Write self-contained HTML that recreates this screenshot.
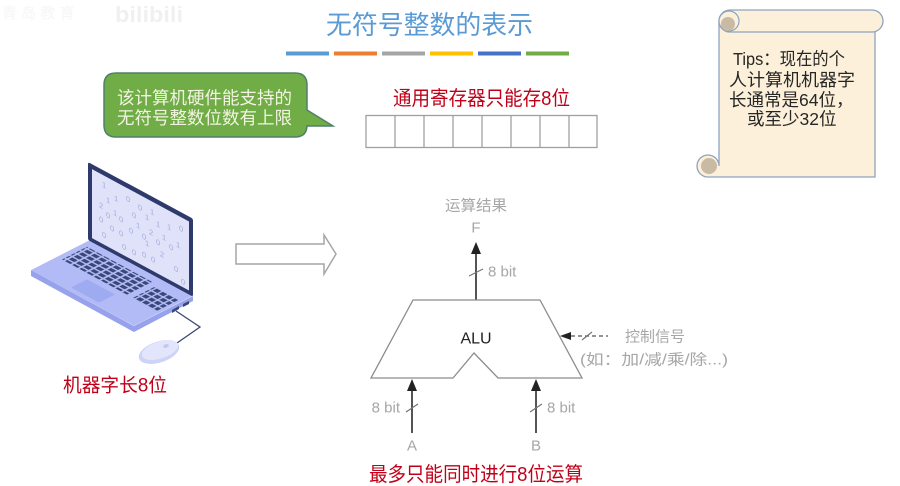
<!DOCTYPE html>
<html><head><meta charset="utf-8">
<style>
html,body{margin:0;padding:0;background:#fff;width:900px;height:486px;overflow:hidden}
svg{display:block}
text{font-family:"Liberation Sans","Noto Sans CJK SC",sans-serif}
</style></head><body>
<svg width="900" height="486" viewBox="0 0 900 486" xmlns="http://www.w3.org/2000/svg">
<defs>
  <pattern id="keys" patternUnits="userSpaceOnUse" width="7.2" height="5">
    <rect x="0.8" y="0.7" width="5.4" height="3.5" fill="#3a4779"/>
  </pattern>
  <pattern id="keys2" patternUnits="userSpaceOnUse" width="6" height="5.6">
    <rect x="0.7" y="0.7" width="4.5" height="4" fill="#3a4779"/>
  </pattern>
</defs>

<!-- watermark -->
<text x="2" y="18" font-size="15" fill="#fafafa" stroke="#f4f4f4" stroke-width="0.3">青 岛 教 育</text>
<text x="115" y="22" font-size="22" font-weight="bold" fill="#f0f0f0" textLength="68" lengthAdjust="spacingAndGlyphs">bilibili</text>

<!-- title -->
<text x="326" y="25" font-size="26" fill="#5b9bd5" dominant-baseline="central" textLength="207" lengthAdjust="spacingAndGlyphs">无符号整数的表示</text>
<rect x="286" y="51.5" width="43" height="4" fill="#5b9bd5"/>
<rect x="334" y="51.5" width="43" height="4" fill="#ed7d31"/>
<rect x="382" y="51.5" width="43" height="4" fill="#a5a5a5"/>
<rect x="430" y="51.5" width="43" height="4" fill="#ffc000"/>
<rect x="478" y="51.5" width="43" height="4" fill="#4472c4"/>
<rect x="526" y="51.5" width="43" height="4" fill="#70ad47"/>

<!-- green bubble -->
<path d="M116,73 H295 Q307,73 307,85 V110 L333,126 L307,126 V125 Q307,137 295,137 H116 Q104,137 104,125 V85 Q104,73 116,73 Z" fill="#70ad47" stroke="#50806a" stroke-width="1.5"/>
<text x="117" y="98" font-size="17.5" fill="#f3f3e2" dominant-baseline="central" textLength="175" lengthAdjust="spacingAndGlyphs">该计算机硬件能支持的</text>
<text x="117" y="118" font-size="17.5" fill="#f3f3e2" dominant-baseline="central" textLength="175" lengthAdjust="spacingAndGlyphs">无符号整数位数有上限</text>

<!-- register -->
<text x="393" y="99" font-size="20" fill="#c00018" dominant-baseline="central" textLength="177" lengthAdjust="spacingAndGlyphs">通用寄存器只能存8位</text>
<g fill="none" stroke="#a0a0a0" stroke-width="1.3">
  <rect x="366" y="115.5" width="231" height="32"/>
  <line x1="395" y1="115.5" x2="395" y2="147.5"/>
  <line x1="424" y1="115.5" x2="424" y2="147.5"/>
  <line x1="453" y1="115.5" x2="453" y2="147.5"/>
  <line x1="482" y1="115.5" x2="482" y2="147.5"/>
  <line x1="511" y1="115.5" x2="511" y2="147.5"/>
  <line x1="540" y1="115.5" x2="540" y2="147.5"/>
  <line x1="569" y1="115.5" x2="569" y2="147.5"/>
</g>

<!-- tips scroll -->
<path d="M719,21 V166 A11,11 0 1 0 708,177 H875 V21 Z" fill="#fcf0da" stroke="#8da3c0" stroke-width="1.3"/>
<circle cx="709" cy="166" r="8" fill="#c9bba3"/>
<path d="M730,10 H872 A11,11 0 0 1 872,32 H730 A11,11 0 0 1 730,10 Z" fill="#fcf0da" stroke="#8da3c0" stroke-width="1.3"/>
<circle cx="729" cy="21" r="10" fill="#fcf0da" stroke="#8da3c0" stroke-width="1.2"/>
<circle cx="728" cy="24" r="7" fill="#c9bba3"/>
<text x="733" y="59" font-size="17.5" fill="#262626" dominant-baseline="central" textLength="112" lengthAdjust="spacingAndGlyphs">Tips：现在的个</text>
<text x="729" y="80" font-size="17.5" fill="#262626" dominant-baseline="central" textLength="126" lengthAdjust="spacingAndGlyphs">人计算机机器字</text>
<text x="729" y="100" font-size="17.5" fill="#262626" dominant-baseline="central">长通常是64位，</text>
<text x="747" y="119" font-size="17.5" fill="#262626" dominant-baseline="central">或至少32位</text>

<!-- laptop -->
<polygon points="31,270 134,326 193,296 193,301 134,332 31,276" fill="#97a2ec"/>
<g transform="matrix(1 0.54 -1 0.51 90 240)">
  <rect x="0" y="0" width="103" height="59" fill="#b2bbf5"/>
  <rect x="5" y="8" width="65" height="25" fill="url(#keys)"/>
  <rect x="76" y="11" width="24" height="23" fill="url(#keys2)"/>
  <rect x="36" y="39" width="28" height="16" fill="#9fabf1" rx="1"/>
</g>
<g transform="matrix(1 0.54 0 1 88 162)">
  <rect x="0" y="0" width="105" height="78" rx="2" fill="#2f3a6c"/>
  <rect x="4" y="5" width="97" height="69" fill="#dfe2f8"/>
  <g font-size="7.5" fill="#a1aadf">
    <text x="14" y="17">1</text>
    <text x="11" y="39">2</text>
    <text x="18" y="30">1</text>
    <text x="26" y="24">1</text>
    <text x="38" y="18">0</text>
    <text x="50" y="20">0</text>
    <text x="62" y="18">1</text>
    <text x="18" y="45">0</text>
    <text x="25" y="39">1</text>
    <text x="31" y="42">0</text>
    <text x="44" y="31">0</text>
    <text x="57" y="26">1</text>
    <text x="68" y="27">1</text>
    <text x="79" y="24">1</text>
    <text x="91" y="19">0</text>
    <text x="11" y="53">0</text>
    <text x="22" y="56">0</text>
    <text x="31" y="56">0</text>
    <text x="41" y="48">0</text>
    <text x="48" y="39">1</text>
    <text x="54" y="47">0</text>
    <text x="61" y="39">2</text>
    <text x="68" y="45">0</text>
    <text x="74" y="37">1</text>
    <text x="81" y="43">0</text>
    <text x="88" y="37">1</text>
    <text x="14" y="67">0</text>
    <text x="34" y="68">0</text>
    <text x="57" y="52">1</text>
    <text x="44" y="68">0</text>
    <text x="54" y="65">0</text>
    <text x="72" y="55">2</text>
    <text x="63" y="65">0</text>
    <text x="86" y="62">0</text>
    <text x="93" y="71">0</text>
  </g>
</g>
<polygon points="172,310 179,306 179,309 172,313" fill="#3b4775"/>
<polygon points="183,304 189,301 189,304 183,307" fill="#3b4775"/>
<polyline points="176,311 200,327 177,343" fill="none" stroke="#3b4775" stroke-width="1.3"/>
<ellipse cx="159" cy="352" rx="21" ry="10.5" transform="rotate(-18 159 352)" fill="#cdd3f7"/>
<ellipse cx="160" cy="350" rx="19" ry="8.5" transform="rotate(-18 160 350)" fill="#e2e5fb"/>
<ellipse cx="166" cy="346" rx="3" ry="1.8" transform="rotate(-18 166 346)" fill="#c2c9f3"/>

<text x="63" y="386" font-size="19" fill="#c00018" dominant-baseline="central" textLength="104" lengthAdjust="spacingAndGlyphs">机器字长8位</text>

<!-- hollow arrow -->
<polygon points="236,244 324,244 324,235 336,254 324,274 324,264 236,264" fill="#fff" stroke="#a6a6a6" stroke-width="1.5"/>

<!-- ALU diagram -->
<text x="445" y="206" font-size="15" fill="#a6a6a6" dominant-baseline="central" textLength="62" lengthAdjust="spacingAndGlyphs">运算结果</text>
<text x="476" y="228" font-size="15" fill="#a6a6a6" dominant-baseline="central" text-anchor="middle">F</text>
<line x1="476" y1="300" x2="476" y2="252" stroke="#555" stroke-width="2"/>
<polygon points="476,242 471,254 481,254" fill="#222"/>
<line x1="469" y1="276" x2="483" y2="269" stroke="#777" stroke-width="1.2"/>
<text x="488" y="272" font-size="15" fill="#a6a6a6" dominant-baseline="central">8 bit</text>

<path d="M413,300 H540 L582,378 H498 L474,353 L453,378 H371 Z" fill="none" stroke="#8c8c8c" stroke-width="1.3"/>
<text x="476" y="339" font-size="16" fill="#222" dominant-baseline="central" text-anchor="middle">ALU</text>

<!-- control signal -->
<polygon points="560,336 571,332 571,340" fill="#222"/>
<line x1="571" y1="336" x2="608" y2="336" stroke="#555" stroke-width="1.3" stroke-dasharray="4 3"/>
<line x1="582" y1="340" x2="592" y2="332" stroke="#777" stroke-width="1.2"/>
<text x="625" y="337" font-size="15" fill="#a6a6a6" dominant-baseline="central" textLength="60" lengthAdjust="spacingAndGlyphs">控制信号</text>
<text x="580" y="360" font-size="15" fill="#a6a6a6" dominant-baseline="central" textLength="148" lengthAdjust="spacingAndGlyphs">(如：加/减/乘/除...)</text>

<!-- inputs -->
<line x1="412" y1="433" x2="412" y2="389" stroke="#555" stroke-width="2"/>
<polygon points="412,379 407,391 417,391" fill="#222"/>
<line x1="406" y1="412" x2="418" y2="404" stroke="#777" stroke-width="1.2"/>
<text x="400" y="408" font-size="15" fill="#a6a6a6" dominant-baseline="central" text-anchor="end">8 bit</text>
<text x="412" y="446" font-size="15" fill="#a6a6a6" dominant-baseline="central" text-anchor="middle">A</text>

<line x1="536" y1="433" x2="536" y2="389" stroke="#555" stroke-width="2"/>
<polygon points="536,379 531,391 541,391" fill="#222"/>
<line x1="530" y1="412" x2="542" y2="404" stroke="#777" stroke-width="1.2"/>
<text x="547" y="408" font-size="15" fill="#a6a6a6" dominant-baseline="central">8 bit</text>
<text x="536" y="446" font-size="15" fill="#a6a6a6" dominant-baseline="central" text-anchor="middle">B</text>

<text x="369" y="475" font-size="20" fill="#c00018" dominant-baseline="central" textLength="214" lengthAdjust="spacingAndGlyphs">最多只能同时进行8位运算</text>
</svg>
</body></html>
